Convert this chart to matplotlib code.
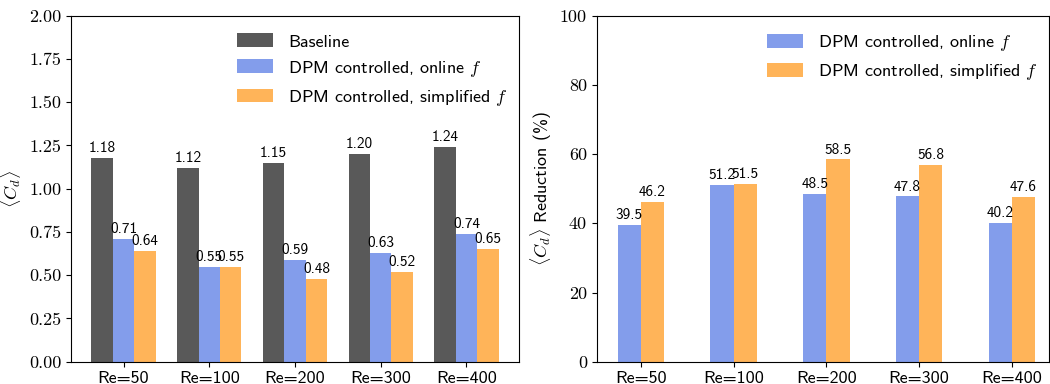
import matplotlib
matplotlib.use("Agg")
import matplotlib.pyplot as plt
import numpy as np

plt.rcParams['mathtext.fontset'] = 'cm'
plt.rcParams['axes.unicode_minus'] = False

categories = ["Re=50", "Re=100", "Re=200", "Re=300", "Re=400"]
baseline = [1.18, 1.12, 1.15, 1.20, 1.24]
online = [0.71, 0.55, 0.59, 0.63, 0.74]
simplified = [0.64, 0.55, 0.48, 0.52, 0.65]
red_online = [39.5, 51.2, 48.5, 47.8, 40.2]
red_simplified = [46.2, 51.5, 58.5, 56.8, 47.6]

c_base = "#595959"
c_online = "#839deb"
c_simp = "#ffb459"

SANS = 'cmss10'
SERIF = 'cmr10'
FS = 13

fig = plt.figure(figsize=(10.5, 3.84), dpi=100)
ax1 = fig.add_axes([71/1050, 22.3/384, 448/1050, 346/384])
ax2 = fig.add_axes([596.7/1050, 22.3/384, 452.3/1050, 346/384])

x = np.arange(len(categories))
w = 0.25

leg_kw = dict(loc="upper right", frameon=False, prop={'family': SANS, 'size': FS},
              handlelength=2.0, handleheight=0.8, labelspacing=0.5, handletextpad=0.85,
              borderaxespad=0.2, bbox_to_anchor=(1.0, 0.98))

b0 = ax1.bar(x - w, baseline, w, color=c_base, label="Baseline")
b1 = ax1.bar(x, online, w, color=c_online, label=r"DPM controlled, online $f$")
b2 = ax1.bar(x + w, simplified, w, color=c_simp, label=r"DPM controlled, simplified $f$")
for b in (b0, b1, b2):
    ax1.bar_label(b, fmt="%.2f", padding=2, fontsize=11, fontfamily=SANS)
ax1.set_ylim(0, 2.0)
ax1.set_yticks(np.arange(0, 2.01, 0.25))
ax1.set_yticklabels([f"{v:.2f}" for v in np.arange(0, 2.01, 0.25)], fontfamily=SERIF, fontsize=FS)
ax1.set_xticks(x)
ax1.set_xticklabels(categories, fontfamily=SANS, fontsize=FS)
ax1.set_xlim(-0.6125, 4.6125)
ax1.set_ylabel(r"$\langle C_d\rangle$", fontsize=FS)
ax1.legend(**leg_kw)

r1 = ax2.bar(x - w/2, red_online, w, color=c_online, label=r"DPM controlled, online $f$")
r2 = ax2.bar(x + w/2, red_simplified, w, color=c_simp, label=r"DPM controlled, simplified $f$")
for b in (r1, r2):
    ax2.bar_label(b, fmt="%.1f", padding=2, fontsize=11, fontfamily=SANS)
ax2.set_ylim(0, 100)
ax2.set_yticks(np.arange(0, 101, 20))
ax2.set_yticklabels([f"{int(v)}" for v in np.arange(0, 101, 20)], fontfamily=SERIF, fontsize=FS)
ax2.set_xticks(x)
ax2.set_xticklabels(categories, fontfamily=SANS, fontsize=FS)
ax2.set_xlim(-0.477, 4.4)
ax2.set_ylabel(r"$\langle C_d\rangle$ Reduction (%)", fontsize=FS, fontfamily=SANS)
ax2.legend(**leg_kw)

fig.savefig("out.png", dpi=100)
